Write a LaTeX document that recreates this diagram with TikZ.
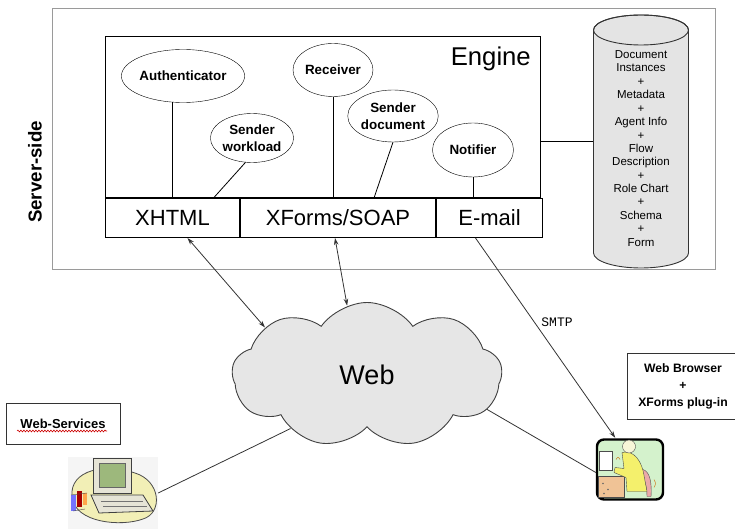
\documentclass[tikz,border=0pt]{standalone}
\usepackage{fontspec}
\setmainfont{Liberation Sans}
\newfontfamily\smtpfont{Liberation Mono}
\usetikzlibrary{positioning, shapes.geometric, shapes.symbols, arrows.meta, decorations.pathmorphing}

\definecolor{framegray}{HTML}{9A9A9A}
\definecolor{storefill}{HTML}{E4E4E4}
\definecolor{cloudfill}{HTML}{E6E6E6}
\definecolor{linkgray}{HTML}{333333}
\definecolor{blobyellow}{HTML}{F2EFB6}
\definecolor{monbeige}{HTML}{E6E4D6}
\definecolor{screengreen}{HTML}{9DB87C}
\definecolor{usergreen}{HTML}{D4F2CC}
\definecolor{desktan}{HTML}{F0C396}
\definecolor{chairpink}{HTML}{EBA9A9}
\definecolor{shirtyellow}{HTML}{F4F06C}
\definecolor{skin}{HTML}{F8F6D8}

\tikzset{
  unit/.style={ellipse, draw, fill=white, minimum width=81, minimum height=52,
    inner sep=0pt, align=center, font=\bfseries\fontsize{13.4}{16.5}\selectfont},
  cell/.style={draw, line width=1, anchor=north west, minimum height=39,
    inner sep=0pt, font=\fontsize{22}{26}\selectfont},
  wire/.style={draw, line width=0.8},
  link/.style={draw=linkgray, line width=0.8},
  note/.style={draw=linkgray, line width=0.9, align=center, inner sep=0pt,
    font=\bfseries\fontsize{12.2}{17}\selectfont},
  storeline/.style={draw=black!80, line width=0.9},
  storetext/.style={align=center, inner sep=0pt, font=\fontsize{11.5}{13.4}\selectfont},
}

\begin{document}
\begin{tikzpicture}[x=1pt, y=-1pt, >={Stealth[length=7pt, width=4.5pt]}]
    \useasboundingbox (0,0) rectangle (735,529);

    % --- Server side frame ---
    \draw[framegray, line width=1] (52,9) rectangle (715,269);
    \node[rotate=90, font=\bfseries\fontsize{18.7}{20}\selectfont] (side) at (35,172) {Server-side};

    % --- Engine with its three front ends ---
    \node[draw, line width=1, anchor=north west, minimum width=435, minimum height=161,
      inner sep=0pt] (engine) at (105,36) {};
    \node[anchor=north east, inner sep=0pt, font=\fontsize{25.7}{28}\selectfont]
      (title) at ([xshift=-10, yshift=-11]engine.north east) {Engine};

    \node[cell, minimum width=134] (xhtml) at (engine.south west) {XHTML};
    \node[cell, minimum width=195] (xforms) at (xhtml.north east) {XForms/SOAP};
    \node[cell, minimum width=106] (email) at (xforms.north east) {E-mail};

    % --- Engine components ---
    \node[unit, minimum width=89, minimum height=53] (auth) at (183,76) {Authenticator};
    \node[unit, minimum width=80, minimum height=49] (sendwl) at (252,138) {Sender\\workload};
    \node[unit, minimum width=80, minimum height=53] (recv) at (333,70) {Receiver};
    \node[unit] (senddoc) at (393,116) {Sender\\document};
    \node[unit, minimum height=54] (notif) at (473,150) {Notifier};

    \draw[wire] (auth.249) -- (auth.249 |- xhtml.north);
    \draw[wire] (sendwl.255) -- ([xshift=41]xhtml.north);
    \draw[wire] (recv.south) -- (recv.south |- xforms.north);
    \draw[wire] (senddoc.south) -- ([xshift=36]xforms.north);
    \draw[wire] (notif.south) -- (notif.south |- email.north);

    % --- Repository (cylinder) ---
    \node[minimum width=95, minimum height=253, inner sep=0pt] (store) at (641,141.5) {};
    \begin{scope}[shift={(store.center)}]
        \filldraw[storeline, fill=storefill] (-47.5,-111.5) -- (-47.5,111.5)
          arc[start angle=180, end angle=0, x radius=47.5, y radius=15] -- (47.5,-111.5)
          arc[start angle=0, end angle=-180, x radius=47.5, y radius=15] -- cycle;
        \draw[storeline] (0,-111.5) ellipse [x radius=47.5, y radius=15];
    \end{scope}
    \node[storetext] (contents) at ([yshift=-7]store.center) {Document\\Instances\\+\\Metadata\\+\\Agent Info\\+\\Flow\\Description\\+\\Role Chart\\+\\Schema\\+\\Form};
    \draw[wire] (store.west) -- (store.west -| engine.east);

    % --- Web cloud ---
    \node[cloud, cloud puffs=9, cloud puff arc=110, aspect=1.9, draw=black!75, fill=cloudfill,
      line width=0.9, minimum width=270, minimum height=145,
      font=\fontsize{27}{30}\selectfont] (web) at (367,375) {Web};

    % --- Clients ---
    \node[note, minimum width=114, minimum height=41, font=\bfseries\fontsize{13}{15}\selectfont]
      (wsnote) at (63,423.5) {Web-Services};
    \draw[red!80!black, line width=0.6, decorate,
      decoration={snake, amplitude=0.9, segment length=3}] (17,431) -- (107,431);
    \node[note, minimum width=112, minimum height=66] (browser) at (683,386) {Web Browser\\+\\XForms plug-in};

    \node[minimum width=90, minimum height=72, inner sep=0pt] (wspc) at (113,493) {};
    \node[minimum width=68, minimum height=63, inner sep=0pt] (user) at (630,469.5) {};

    % web services computer
    \begin{scope}[shift={(wspc.center)}]
        \fill[gray!8] (-45,-36) rectangle (45,36);
        \filldraw[fill=blobyellow, draw=black!70, line width=0.8]
          (-41,4) .. controls (-44,-24) and (-6,-30) .. (22,-20)
          .. controls (48,-12) and (50,20) .. (30,26)
          .. controls (8,34) and (-38,30) .. (-41,4) -- cycle;
        \filldraw[fill=monbeige, draw=black!75, line width=0.8] (-22,2) -- (30,2) -- (40,18) -- (-14,20) -- cycle;
        \draw[black!55] (-12,8) -- (30,8) (-10,13) -- (34,13);
        \filldraw[fill=monbeige, draw=black!75, line width=0.8] (-20,-35) rectangle (18,0);
        \filldraw[fill=screengreen, draw=black!60] (-14,-30) rectangle (12,-6);
        \fill[blue!55] (-42,2) rectangle (-37,18);
        \fill[red!65!black] (-36,-2) rectangle (-31,14);
        \fill[orange!70] (-30,0) rectangle (-26,12);
        \draw[black!70] (-42,2) -- (-26,0) (-40,18) -- (-28,16);
    \end{scope}

    % browser user
    \begin{scope}[shift={(user.center)}]
        \filldraw[fill=usergreen, draw=black, line width=2.4, rounded corners=7] (-33,-30) rectangle (33,30);
        \filldraw[fill=white, draw=black!70] (-31,-18) rectangle (-18,1);
        \filldraw[fill=desktan, draw=black!70] (-32,7) rectangle (-6,28);
        \fill[black!60] (-27,14) circle (0.8) (-22,20) circle (0.8) (-26,24) circle (0.8);
        \filldraw[fill=chairpink, draw=black!70] (13,0) .. controls (20,2) and (22,14) .. (21,27)
          -- (17,27) .. controls (17,16) and (14,8) .. (10,5) -- cycle;
        \filldraw[fill=shirtyellow, draw=black!70] (-8,-17) .. controls (4,-20) and (12,-8) .. (14,6)
          -- (17,22) -- (-3,22) -- (-4,8) -- (-16,3) -- (-15,-2) -- (-6,-1) -- cycle;
        \filldraw[fill=skin, draw=black!70] (-1,-23) circle (6.5);
        \draw[orange!80!black] (-14,-10) .. controls (-12,-13) .. (-10,-10) (24,10) .. controls (26,14) .. (24,18);
    \end{scope}

    % --- Connections ---
    \draw[link, <->] ([xshift=15]xhtml.south) -- (web.155);
    \draw[link, <->] ([xshift=-3]xforms.south) -- (web.106);
    \draw[link, ->] ([xshift=-14]email.south) -- (user.115);
    \node[font=\smtpfont\fontsize{13}{14}\selectfont] (smtp) at (557,322) {SMTP};
    \draw[link] (web.215) -- (wspc.east);
    \draw[link] (web.344) -- (user.185);

\end{tikzpicture}
\end{document}
